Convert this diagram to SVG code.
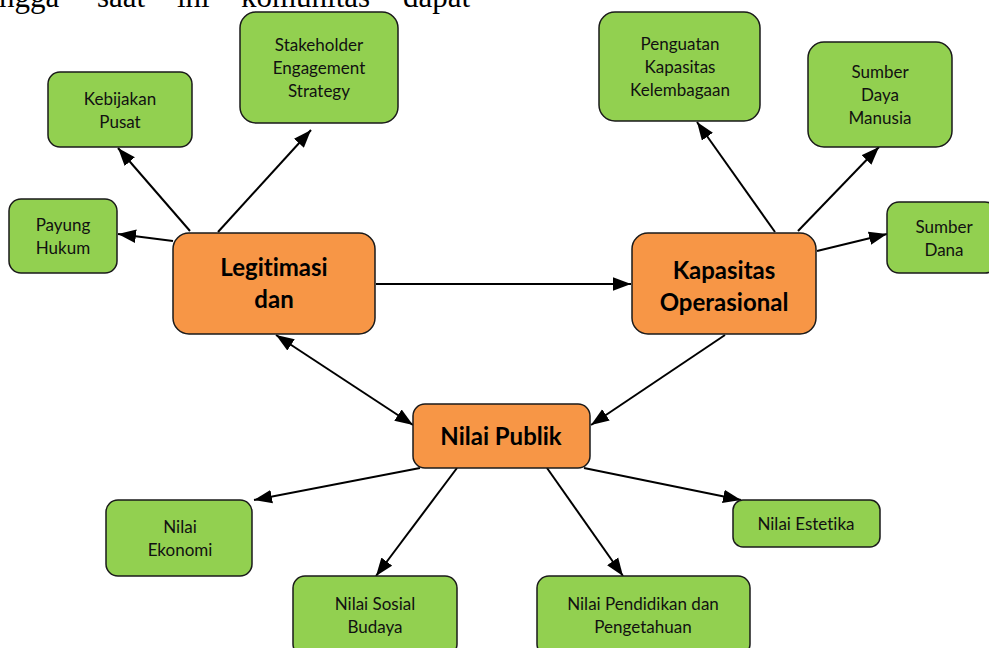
<svg xmlns="http://www.w3.org/2000/svg" width="989" height="648" viewBox="0 0 989 648">
<style>
.g{fill:#92D050;stroke:#1a1a1a;stroke-width:1.5}
.o{fill:#F79646;stroke:#1a1a1a;stroke-width:1.5}
.t{font-family:Lato,"Open Sans",sans-serif;font-size:17px;fill:#111;text-anchor:middle;font-variant-ligatures:none}
.b{font-family:Lato,"Open Sans",sans-serif;font-size:24px;font-weight:bold;fill:#000;text-anchor:middle;font-variant-ligatures:none}
.s{font-family:"Liberation Serif",serif;font-size:31px;fill:#000}
.c line{stroke:#000;stroke-width:2}
</style>
<defs>
<marker id="ah" markerUnits="userSpaceOnUse" markerWidth="18" markerHeight="14" refX="16" refY="6" orient="auto-start-reverse" viewBox="0 0 16 12">
<path d="M0,0 L16,6 L0,12 z" fill="#000"/>
</marker>
</defs>
<g id="header">
<text class="s" x="-1" y="7">ngga</text>
<text class="s" x="97" y="7">saat</text>
<text class="s" x="177" y="7">ini</text>
<text class="s" x="241" y="7">komunitas</text>
<text class="s" x="403" y="7">dapat</text>
</g>
<g class="c" id="connectors">
<line x1="190" y1="231" x2="118" y2="148" marker-end="url(#ah)"/>
<line x1="218" y1="232" x2="311" y2="130" marker-end="url(#ah)"/>
<line x1="173" y1="241" x2="118" y2="234" marker-end="url(#ah)"/>
<line x1="376" y1="284" x2="631" y2="284" marker-end="url(#ah)"/>
<line x1="276" y1="335" x2="413" y2="425" marker-start="url(#ah)" marker-end="url(#ah)"/>
<line x1="725" y1="335" x2="591" y2="425" marker-end="url(#ah)"/>
<line x1="775" y1="232" x2="697" y2="122" marker-end="url(#ah)"/>
<line x1="798" y1="231" x2="879" y2="147" marker-end="url(#ah)"/>
<line x1="817" y1="251" x2="887" y2="234" marker-end="url(#ah)"/>
<line x1="420" y1="468" x2="254" y2="500" marker-end="url(#ah)"/>
<line x1="457" y1="468" x2="376" y2="576" marker-end="url(#ah)"/>
<line x1="547" y1="468" x2="623" y2="576" marker-end="url(#ah)"/>
<line x1="584" y1="468" x2="741" y2="500" marker-end="url(#ah)"/>
</g>
<g id="stakeholder"><rect class="g" x="240" y="12" width="158" height="111" rx="16"/>
<text class="t" x="319" y="51">Stakeholder</text><text class="t" x="319" y="74">Engagement</text><text class="t" x="319" y="97">Strategy</text></g>
<g id="kebijakan"><rect class="g" x="48" y="72" width="144" height="75" rx="12"/>
<text class="t" x="120" y="105">Kebijakan</text><text class="t" x="120" y="128">Pusat</text></g>
<g id="payung"><rect class="g" x="9" y="199" width="108" height="74" rx="12"/>
<text class="t" x="63" y="231">Payung</text><text class="t" x="63" y="254">Hukum</text></g>
<g id="legitimasi"><rect class="o" x="173" y="233" width="202" height="101" rx="16"/>
<text class="b" x="274" y="276">Legitimasi</text><text class="b" x="274" y="308">dan</text></g>
<g id="kapasitas"><rect class="o" x="632" y="233" width="184" height="101" rx="16"/>
<text class="b" x="724" y="279">Kapasitas</text><text class="b" x="724" y="311">Operasional</text></g>
<g id="penguatan"><rect class="g" x="599" y="12" width="161" height="109" rx="16"/>
<text class="t" x="680" y="50">Penguatan</text><text class="t" x="680" y="73">Kapasitas</text><text class="t" x="680" y="96">Kelembagaan</text></g>
<g id="sdm"><rect class="g" x="808" y="42" width="144" height="105" rx="16"/>
<text class="t" x="880" y="78">Sumber</text><text class="t" x="880" y="101">Daya</text><text class="t" x="880" y="124">Manusia</text></g>
<g id="dana"><rect class="g" x="887" y="202" width="110" height="71" rx="12"/>
<text class="t" x="944" y="233">Sumber</text><text class="t" x="944" y="256">Dana</text></g>
<g id="publik"><rect class="o" x="413" y="404" width="177" height="64" rx="12"/>
<text class="b" x="501" y="445">Nilai Publik</text></g>
<g id="ekonomi"><rect class="g" x="106" y="500" width="146" height="76" rx="12"/>
<text class="t" x="180" y="533">Nilai</text><text class="t" x="180" y="556">Ekonomi</text></g>
<g id="sosial"><rect class="g" x="293" y="576" width="164" height="80" rx="12"/>
<text class="t" x="375" y="610">Nilai Sosial</text><text class="t" x="375" y="633">Budaya</text></g>
<g id="pendidikan"><rect class="g" x="537" y="576" width="213" height="80" rx="12"/>
<text class="t" x="643" y="610">Nilai Pendidikan dan</text><text class="t" x="643" y="633">Pengetahuan</text></g>
<g id="estetika"><rect class="g" x="733" y="500" width="147" height="47" rx="10"/>
<text class="t" x="806" y="530">Nilai Estetika</text></g>
</svg>
